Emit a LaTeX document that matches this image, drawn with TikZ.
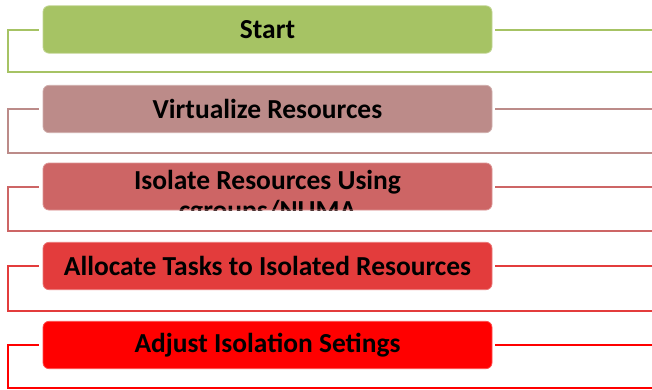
\documentclass[tikz,border=0pt]{standalone}
\usepackage{fontspec}
\setmainfont{Carlito}
\begin{document}
\definecolor{cA}{HTML}{A6C364}
\definecolor{cB}{HTML}{BC8B89}
\definecolor{cC}{HTML}{CD6565}
\definecolor{cD}{HTML}{E33C3C}
\definecolor{cE}{HTML}{FF0000}
\begin{tikzpicture}[x=0.75pt,y=-0.75pt,
  stepbox/.style={rounded corners=4.5pt, minimum width=336.75pt, minimum height=35.5pt,
    inner sep=0pt, fill=#1, draw=#1!70!white, line width=0.6pt,
    font=\fontsize{20.6}{23.25}\selectfont\bfseries, text=black},
  steptext/.style={anchor=base, inner sep=0pt,
    font=\fontsize{20.6}{23.25}\selectfont\bfseries},
  link/.style={draw=#1, line width=1.5pt}]
\useasboundingbox (0,0) rectangle (652,389);

% the five steps
\node[stepbox=cA] (b1) at (267.5,29.5) {Start};
\node[stepbox=cB] (b2) at (267.5,109) {Virtualize Resources};
% the long label runs past the box and is cut off by it
\node[stepbox=cC, minimum height=35.25pt, path picture={
    \node[steptext] at ([yshift=-2.1pt]path picture bounding box.center)
      {Isolate Resources Using};
    \node[steptext] at ([yshift=-24.9pt]path picture bounding box.center)
      {cgroups/NUMA};}] (b3) at (267.5,186.5) {};
\node[stepbox=cD] (b4) at (267.5,266) {Allocate Tasks to Isolated Resources};
\node[stepbox=cE] (b5) at (267.5,345) {Adjust Isolation Setings};

% bracket corners and right ends
\coordinate (l1) at (8,72);    \coordinate (r1) at (652,72);
\coordinate (l2) at (8,152.5); \coordinate (r2) at (652,152.5);
\coordinate (l3) at (8,231);   \coordinate (r3) at (652,231);
\coordinate (l4) at (8,310.5); \coordinate (r4) at (652,310.5);
\coordinate (l5) at (8,387.5); \coordinate (r5) at (652,387.5);

\foreach \i/\c in {1/cA,2/cB,3/cC,4/cD,5/cE}{
  \draw[link=\c] ([xshift=-3pt]b\i.west) -| (l\i) -- (r\i);
  \draw[link=\c] ([xshift=2.25pt]b\i.east) -- (b\i.east -| r\i);
}
\end{tikzpicture}
\end{document}
